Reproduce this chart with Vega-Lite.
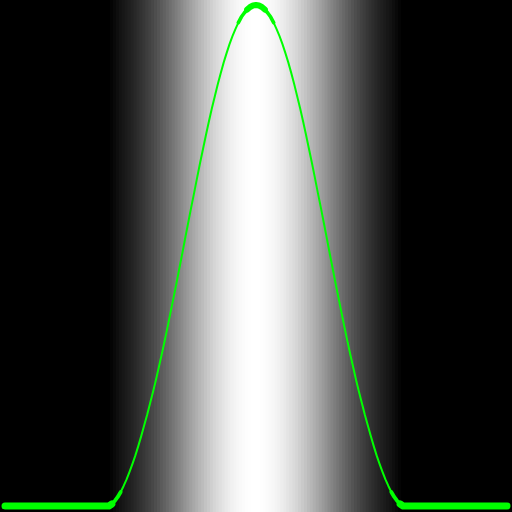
{
  "$schema": "https://vega.github.io/schema/vega-lite/v6.json",
  "description": "Bell-shaped bump over a grey gradient of the same values.",
  "width": 512,
  "height": 512,
  "autosize": {"type": "fit", "contains": "padding"},
  "padding": 0,
  "background": "#000000",
  "config": {"view": {"stroke": null, "fill": "#000000"}},
  "data": {
    "values": [
      {"x": 0, "v": 0, "side": "L"},
      {"x": 106, "v": 0.000, "side": "L"},
      {"x": 109, "v": 0.004, "side": "L"},
      {"x": 112, "v": 0.010, "side": "L"},
      {"x": 115, "v": 0.018, "side": "L"},
      {"x": 118, "v": 0.028, "side": "L"},
      {"x": 121, "v": 0.040, "side": "L"},
      {"x": 124, "v": 0.053, "side": "L"},
      {"x": 127, "v": 0.068, "side": "L"},
      {"x": 130, "v": 0.084, "side": "L"},
      {"x": 133, "v": 0.101, "side": "L"},
      {"x": 136, "v": 0.120, "side": "L"},
      {"x": 139, "v": 0.140, "side": "L"},
      {"x": 142, "v": 0.161, "side": "L"},
      {"x": 145, "v": 0.182, "side": "L"},
      {"x": 148, "v": 0.205, "side": "L"},
      {"x": 151, "v": 0.228, "side": "L"},
      {"x": 154, "v": 0.252, "side": "L"},
      {"x": 157, "v": 0.278, "side": "L"},
      {"x": 160, "v": 0.304, "side": "L"},
      {"x": 163, "v": 0.331, "side": "L"},
      {"x": 166, "v": 0.359, "side": "L"},
      {"x": 169, "v": 0.388, "side": "L"},
      {"x": 172, "v": 0.417, "side": "L"},
      {"x": 175, "v": 0.446, "side": "L"},
      {"x": 178, "v": 0.476, "side": "L"},
      {"x": 181, "v": 0.506, "side": "L"},
      {"x": 184, "v": 0.537, "side": "L"},
      {"x": 187, "v": 0.567, "side": "L"},
      {"x": 190, "v": 0.597, "side": "L"},
      {"x": 193, "v": 0.626, "side": "L"},
      {"x": 196, "v": 0.656, "side": "L"},
      {"x": 199, "v": 0.685, "side": "L"},
      {"x": 202, "v": 0.713, "side": "L"},
      {"x": 205, "v": 0.741, "side": "L"},
      {"x": 208, "v": 0.768, "side": "L"},
      {"x": 211, "v": 0.794, "side": "L"},
      {"x": 214, "v": 0.818, "side": "L"},
      {"x": 217, "v": 0.842, "side": "L"},
      {"x": 220, "v": 0.864, "side": "L"},
      {"x": 223, "v": 0.885, "side": "L"},
      {"x": 226, "v": 0.904, "side": "L"},
      {"x": 229, "v": 0.922, "side": "L"},
      {"x": 232, "v": 0.938, "side": "L"},
      {"x": 235, "v": 0.952, "side": "L"},
      {"x": 238, "v": 0.965, "side": "L"},
      {"x": 241, "v": 0.976, "side": "L"},
      {"x": 244, "v": 0.984, "side": "L"},
      {"x": 247, "v": 0.991, "side": "L"},
      {"x": 250, "v": 0.996, "side": "L"},
      {"x": 253, "v": 0.999, "side": "L"},
      {"x": 256, "v": 1.000, "side": "R"},
      {"x": 259, "v": 0.999, "side": "R"},
      {"x": 262, "v": 0.996, "side": "R"},
      {"x": 265, "v": 0.991, "side": "R"},
      {"x": 268, "v": 0.984, "side": "R"},
      {"x": 271, "v": 0.976, "side": "R"},
      {"x": 274, "v": 0.965, "side": "R"},
      {"x": 277, "v": 0.952, "side": "R"},
      {"x": 280, "v": 0.938, "side": "R"},
      {"x": 283, "v": 0.922, "side": "R"},
      {"x": 286, "v": 0.904, "side": "R"},
      {"x": 289, "v": 0.885, "side": "R"},
      {"x": 292, "v": 0.864, "side": "R"},
      {"x": 295, "v": 0.842, "side": "R"},
      {"x": 298, "v": 0.818, "side": "R"},
      {"x": 301, "v": 0.794, "side": "R"},
      {"x": 304, "v": 0.768, "side": "R"},
      {"x": 307, "v": 0.741, "side": "R"},
      {"x": 310, "v": 0.713, "side": "R"},
      {"x": 313, "v": 0.685, "side": "R"},
      {"x": 316, "v": 0.656, "side": "R"},
      {"x": 319, "v": 0.626, "side": "R"},
      {"x": 322, "v": 0.597, "side": "R"},
      {"x": 325, "v": 0.567, "side": "R"},
      {"x": 328, "v": 0.537, "side": "R"},
      {"x": 331, "v": 0.506, "side": "R"},
      {"x": 334, "v": 0.476, "side": "R"},
      {"x": 337, "v": 0.446, "side": "R"},
      {"x": 340, "v": 0.417, "side": "R"},
      {"x": 343, "v": 0.388, "side": "R"},
      {"x": 346, "v": 0.359, "side": "R"},
      {"x": 349, "v": 0.331, "side": "R"},
      {"x": 352, "v": 0.304, "side": "R"},
      {"x": 355, "v": 0.278, "side": "R"},
      {"x": 358, "v": 0.252, "side": "R"},
      {"x": 361, "v": 0.228, "side": "R"},
      {"x": 364, "v": 0.205, "side": "R"},
      {"x": 367, "v": 0.182, "side": "R"},
      {"x": 370, "v": 0.161, "side": "R"},
      {"x": 373, "v": 0.140, "side": "R"},
      {"x": 376, "v": 0.120, "side": "R"},
      {"x": 379, "v": 0.101, "side": "R"},
      {"x": 382, "v": 0.084, "side": "R"},
      {"x": 385, "v": 0.068, "side": "R"},
      {"x": 388, "v": 0.053, "side": "R"},
      {"x": 391, "v": 0.040, "side": "R"},
      {"x": 394, "v": 0.028, "side": "R"},
      {"x": 397, "v": 0.018, "side": "R"},
      {"x": 400, "v": 0.010, "side": "R"},
      {"x": 403, "v": 0.004, "side": "R"},
      {"x": 406, "v": 0.000, "side": "R"},
      {"x": 512, "v": 0, "side": "R"}
    ]
  },
  "encoding": {
    "x": {"field": "x", "type": "quantitative", "scale": {"domain": [0, 512], "nice": false, "zero": false}, "axis": null}
  },
  "layer": [
    {
      "mark": {"type": "bar", "size": 4, "clip": true},
      "encoding": {
        "y": {"datum": -0.012, "type": "quantitative", "scale": {"domain": [-0.012, 1.01], "nice": false, "zero": false}, "axis": null},
        "y2": {"datum": 1.01},
        "color": {"field": "v", "type": "quantitative", "scale": {"type": "pow", "exponent": 0.8, "domain": [0, 1], "range": ["#000000", "#ffffff"]}, "legend": null}
      }
    },
    {
      "mark": {"type": "line", "color": "#00ff00", "strokeWidth": 2, "strokeCap": "round", "strokeJoin": "round", "clip": true},
      "encoding": {
        "y": {"field": "v", "type": "quantitative", "scale": {"domain": [-0.012, 1.01], "nice": false, "zero": false}, "axis": null}
      }
    },
    {
      "transform": [{"filter": "datum.v >= 0.96"}],
      "mark": {"type": "line", "color": "#00ff00", "strokeWidth": 3.6, "strokeCap": "round", "strokeJoin": "round", "clip": true},
      "encoding": {
        "y": {"field": "v", "type": "quantitative", "scale": {"domain": [-0.012, 1.01], "nice": false, "zero": false}, "axis": null}
      }
    },
    {
      "transform": [{"filter": "datum.v >= 0.99"}],
      "mark": {"type": "line", "color": "#00ff00", "strokeWidth": 6, "strokeCap": "round", "strokeJoin": "round", "clip": true},
      "encoding": {
        "y": {"field": "v", "type": "quantitative", "scale": {"domain": [-0.012, 1.01], "nice": false, "zero": false}, "axis": null}
      }
    },
    {
      "transform": [{"filter": "datum.v <= 0.03"}],
      "mark": {"type": "line", "color": "#00ff00", "strokeWidth": 3.8, "strokeCap": "round", "strokeJoin": "round", "clip": true},
      "encoding": {
        "y": {"field": "v", "type": "quantitative", "scale": {"domain": [-0.012, 1.01], "nice": false, "zero": false}, "axis": null},
        "detail": {"field": "side", "type": "nominal"}
      }
    },
    {
      "transform": [{"filter": "datum.v <= 0.005"}],
      "mark": {"type": "line", "color": "#00ff00", "strokeWidth": 7, "strokeCap": "round", "strokeJoin": "round", "clip": true},
      "encoding": {
        "y": {"field": "v", "type": "quantitative", "scale": {"domain": [-0.012, 1.01], "nice": false, "zero": false}, "axis": null},
        "detail": {"field": "side", "type": "nominal"}
      }
    }
  ]
}
